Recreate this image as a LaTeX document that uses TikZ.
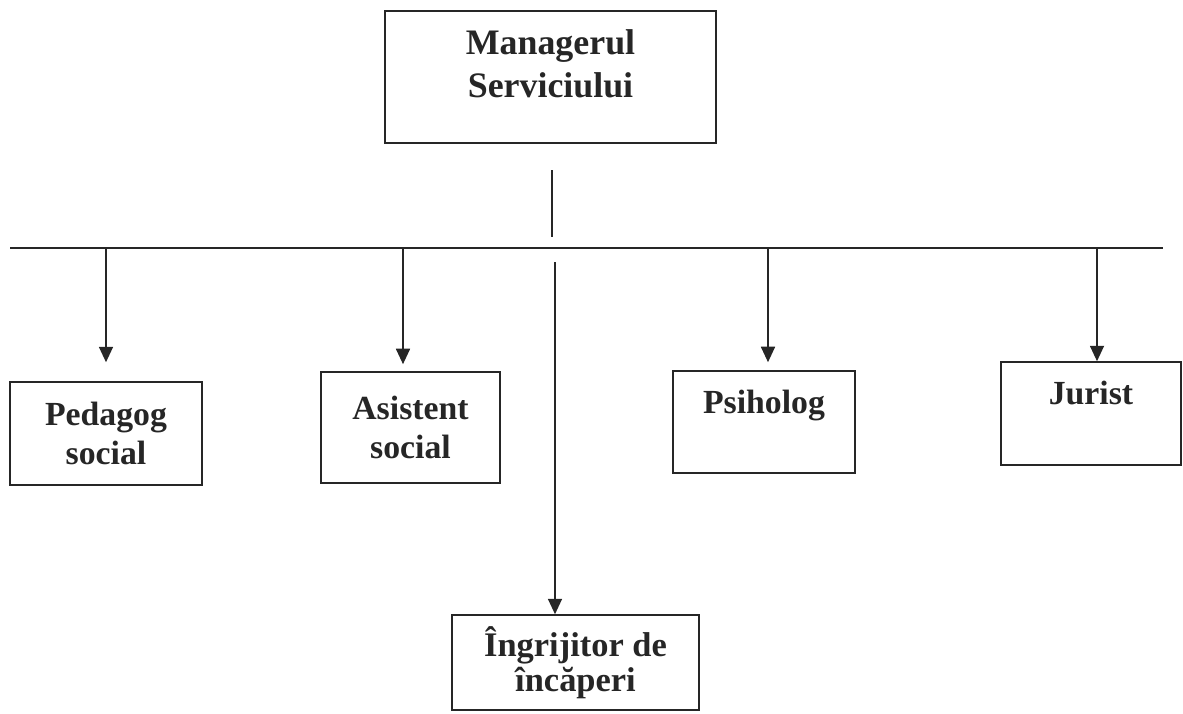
\documentclass[tikz,border=0pt]{standalone}
\usepackage{fontspec}
\setmainfont{Liberation Serif}
\usepackage{xcolor}
\usetikzlibrary{positioning,calc,arrows.meta}

\begin{document}
\begin{tikzpicture}[
    x=0.025cm, y=-0.025cm,
    font=\bfseries,
    box/.style={draw=ink, line width=1.1pt, rectangle, align=center,
                inner sep=0pt, text=ink},
    big/.style={font=\bfseries\fontsize{25.5pt}{30.5pt}\selectfont},
    mid/.style={font=\bfseries\fontsize{24pt}{28pt}\selectfont},
    toptext/.style={text depth=29pt},
    link/.style={draw=ink, line width=1.1pt},
    flow/.style={link, -{Triangle[length=11pt,width=10pt]}},
  ]
  \definecolor{ink}{HTML}{262626}

  \useasboundingbox (0,0) rectangle (1183,713);

  % ========================= CONDUCERE =======================
  \node[box, big, minimum width=8.275cm, minimum height=3.3cm,
        text depth=18.5pt] (mgr) at (550.5,77) {Managerul\\Serviciului};

  % ========================= PERSONAL ========================
  \node[box, mid, minimum width=4.8cm, minimum height=2.575cm]
    (ped) at (106,433.5) {Pedagog\\social};
  \node[box, mid, minimum width=4.475cm, minimum height=2.775cm]
    (asi) at (410.5,427.5) {Asistent\\social};
  \node[box, mid, toptext, minimum width=4.55cm, minimum height=2.55cm]
    (psi) at (764,422) {Psiholog};
  \node[box, mid, toptext, minimum width=4.5cm, minimum height=2.575cm]
    (jur) at (1091,413.5) {Jurist};
  \node[box, mid, minimum width=6.175cm, minimum height=2.375cm,
        font=\bfseries\fontsize{24.5pt}{24.5pt}\selectfont]
    (ingr) at (575.5,662.5) {Îngrijitor de\\încăperi};

  % ========================== LINII ==========================
  % Bara orizontala si legatura de la manager
  \coordinate (barL) at (10,248);
  \coordinate (barR) at (1163,248);
  \coordinate (t1) at (552,170);
  \coordinate (t2) at (552,237);
  \coordinate (t3) at (555,262);
  \draw[link] (barL) -- (barR);
  \draw[link] (t1) -- (t2);
  % Ramificatii spre posturi (din bara -> marginea de sus)
  \coordinate (b1) at (106,248);
  \coordinate (b2) at (403,248);
  \coordinate (b3) at (768,248);
  \coordinate (b4) at (1097,248);
  \draw[flow, shorten >=13.5pt] (b1) -- (b1 |- ped.north);
  \draw[flow, shorten >=5pt] (b2) -- (b2 |- asi.north);
  \draw[flow, shorten >=5.7pt] (b3) -- (b3 |- psi.north);
  \draw[flow] (b4) -- (b4 |- jur.north);
  \draw[flow] (t3) -- (t3 |- ingr.north);
\end{tikzpicture}
\end{document}
